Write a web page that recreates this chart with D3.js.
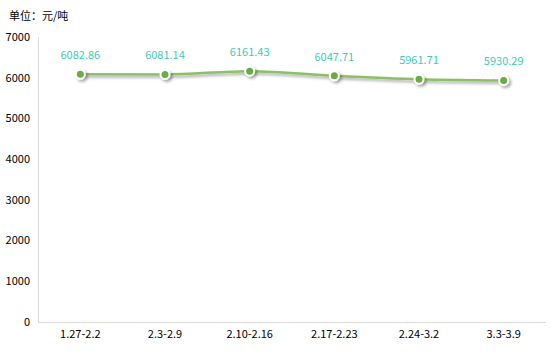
<!DOCTYPE html>
<html><head><meta charset="utf-8">
<script src="https://cdn.jsdelivr.net/npm/d3@7"></script>
<style>body{margin:0;background:#fff;}svg{display:block;font-family:"Microsoft YaHei","Noto Sans CJK SC","Liberation Sans",sans-serif;}</style>
</head><body><svg id="c" width="553" height="356"></svg>
<script>
const categories = ["1.27-2.2","2.3-2.9","2.10-2.16","2.17-2.23","2.24-3.2","3.3-3.9"];
const values = [6082.86,6081.14,6161.43,6047.71,5961.71,5930.29];
const yTicks = [0,1000,2000,3000,4000,5000,6000,7000];
const unitLabel = "单位：元/吨";

const svg = d3.select("#c");
const m = {l:38, r:546, t:37, b:322};
const x = d3.scaleBand().domain(categories).range([m.l, m.r]);
const y = d3.scaleLinear().domain([0,7000]).range([m.b, m.t]);

const defs = svg.append("defs");
const f = defs.append("filter").attr("id","sh").attr("x","-50%").attr("y","-50%").attr("width","200%").attr("height","200%");
f.append("feDropShadow").attr("dx",2).attr("dy",2).attr("stdDeviation",1.5).attr("flood-color","#000").attr("flood-opacity",0.35);

svg.append("text").attr("x",9).attr("y",20).attr("font-size",11).attr("fill","#000").text(unitLabel);

// y axis line
svg.append("line").attr("x1",m.l+0.5).attr("x2",m.l+0.5).attr("y1",m.t).attr("y2",m.b).attr("stroke","#d9d9d9");
// x axis line
svg.append("line").attr("x1",m.l).attr("x2",m.r).attr("y1",m.b+0.5).attr("y2",m.b+0.5).attr("stroke","#d9d9d9");

svg.append("g").selectAll("text").data(yTicks).join("text")
  .attr("x",30).attr("y",d=>y(d)).attr("dy","0.35em").attr("text-anchor","end")
  .attr("font-size",11).attr("fill","#000").text(d=>d);

svg.append("g").selectAll("text").data(categories).join("text")
  .attr("x",d=>x(d)+x.bandwidth()/2).attr("y",334).attr("dy","0.35em").attr("text-anchor","middle")
  .attr("font-size",11).attr("fill","#000").text(d=>d);

const pts = categories.map((c,i)=>[x(c)+x.bandwidth()/2, y(values[i])]);
const line = d3.line().curve(d3.curveMonotoneX);
svg.append("path").attr("d",line(pts)).attr("fill","none").attr("stroke","#8dbf68").attr("stroke-width",2.5).attr("filter","url(#sh)");

svg.append("g").selectAll("circle").data(pts).join("circle")
  .attr("cx",d=>d[0]).attr("cy",d=>d[1]).attr("r",4.5)
  .attr("fill","#6aac43").attr("stroke","#fff").attr("stroke-width",2).attr("filter","url(#sh)");

svg.append("g").selectAll("text").data(values).join("text")
  .attr("x",(d,i)=>pts[i][0]).attr("y",(d,i)=>pts[i][1]-19).attr("dy","0.35em").attr("text-anchor","middle")
  .attr("font-size",11).attr("fill","#3fcab5").text(d=>d.toFixed(2));
</script></body></html>
